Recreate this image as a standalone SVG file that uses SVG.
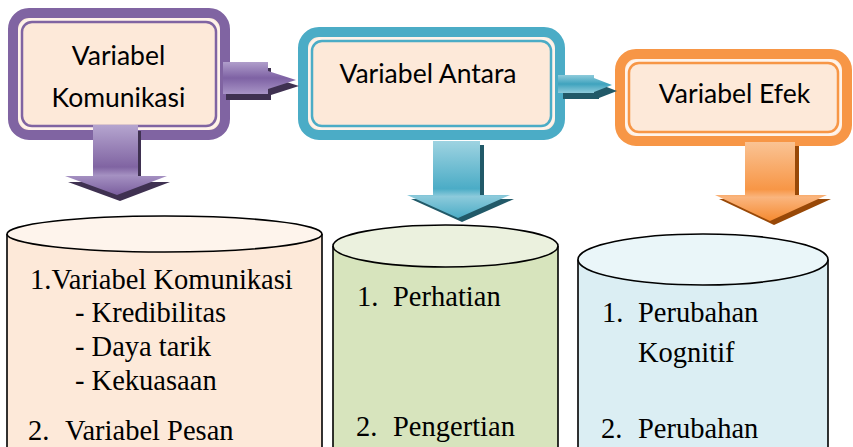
<svg xmlns="http://www.w3.org/2000/svg" width="853" height="447" viewBox="0 0 853 447">
<defs>
<linearGradient id="gPurV" x1="0" y1="0" x2="0" y2="1">
<stop offset="0" stop-color="#B5A5CF"/><stop offset="0.6" stop-color="#8064A2"/><stop offset="0.72" stop-color="#A591C2"/><stop offset="1" stop-color="#7A5E9E"/>
</linearGradient>
<linearGradient id="gTealV" x1="0" y1="0" x2="0" y2="1">
<stop offset="0" stop-color="#9ED3E1"/><stop offset="0.62" stop-color="#4BACC6"/><stop offset="0.72" stop-color="#8CCADB"/><stop offset="1" stop-color="#4BACC6"/>
</linearGradient>
<linearGradient id="gOrgV" x1="0" y1="0" x2="0" y2="1">
<stop offset="0" stop-color="#FAC394"/><stop offset="0.6" stop-color="#F79646"/><stop offset="0.7" stop-color="#FAB57E"/><stop offset="1" stop-color="#F58A30"/>
</linearGradient>
<linearGradient id="gPurH" x1="0" y1="0" x2="0" y2="1">
<stop offset="0" stop-color="#B09ECB"/><stop offset="0.5" stop-color="#7E62A4"/><stop offset="1" stop-color="#A894C6"/>
</linearGradient>
<linearGradient id="gTealH" x1="0" y1="0" x2="0" y2="1">
<stop offset="0" stop-color="#8ECBDB"/><stop offset="0.5" stop-color="#3FA3BE"/><stop offset="1" stop-color="#8ECBDB"/>
</linearGradient>
</defs>
<style>
.fill{fill:#FDE9D9}
.band{fill:none;stroke-width:10}
.thin{fill:none;stroke-width:2.5}
.gap{fill:none;stroke:#FFF3EA;stroke-width:3}
.bt{font-family:Lato,"Open Sans",sans-serif;font-size:26.5px;fill:#000}
.ct{font-family:"Liberation Serif",serif;font-size:28.5px;fill:#000}
.cyl{stroke:#000;stroke-width:1.6}
</style>
<g id="node-komunikasi">
<rect class="fill" x="13" y="13" width="212" height="122" rx="16"/>
<rect class="gap" x="19.5" y="19.5" width="199" height="109" rx="12"/>
<rect class="thin" x="22" y="22" width="194" height="104" rx="10" stroke="#8064A2"/>
<rect class="band" x="13" y="13" width="212" height="122" rx="16" stroke="#8064A2"/>
<text class="bt" x="118.5" y="65" text-anchor="middle">Variabel</text>
<text class="bt" x="118.5" y="107" text-anchor="middle">Komunikasi</text>
</g>
<g id="node-antara">
<rect class="fill" x="303" y="32" width="257" height="103" rx="16"/>
<rect class="gap" x="309.5" y="38.5" width="244" height="90" rx="12"/>
<rect class="thin" x="312" y="41" width="239" height="85" rx="10" stroke="#4BACC6"/>
<rect class="band" x="303" y="32" width="257" height="103" rx="16" stroke="#4BACC6"/>
<text class="bt" x="428" y="83" text-anchor="middle">Variabel Antara</text>
</g>
<g id="node-efek">
<rect class="fill" x="620" y="54" width="227" height="87" rx="16"/>
<rect class="gap" x="626.5" y="60.5" width="214" height="74" rx="12"/>
<rect class="thin" x="629" y="63" width="209" height="69" rx="10" stroke="#F79646"/>
<rect class="band" x="620" y="54" width="227" height="87" rx="16" stroke="#F79646"/>
<text class="bt" x="734.5" y="103" text-anchor="middle">Variabel Efek</text>
</g>
<g id="connectors">
<g id="arrow-kom-antara">
<path d="M223,62 H268 V71 L296,80 L268,89 V94 H223 Z" fill="#3F3151" transform="translate(3,6)"/>
<path d="M223,62 H268 V71 L296,80 L268,89 V94 H223 Z" fill="url(#gPurH)"/>
</g>
<g id="arrow-antara-efek">
<path d="M558,75 H594 V78 L612,85 L594,92 V93 H558 Z" fill="#215968" transform="translate(5,6)"/>
<path d="M558,75 H594 V78 L612,85 L594,92 V93 H558 Z" fill="url(#gTealH)"/>
</g>
<g id="arrow-kom-down">
<path d="M93,125 H138 V176 H167 L117,195 L65,176 H93 Z" fill="#3F3151" transform="translate(3,6)"/>
<path d="M93,125 H138 V176 H167 L117,195 L65,176 H93 Z" fill="url(#gPurV)"/>
</g>
<g id="arrow-antara-down">
<path d="M433,141 H480 V195 H510 L458,218 L407,195 H433 Z" fill="#215968" transform="translate(4,4)"/>
<path d="M433,141 H480 V195 H510 L458,218 L407,195 H433 Z" fill="url(#gTealV)"/>
</g>
<g id="arrow-efek-down">
<path d="M745,142 H795 V195 H827 L770,221 L715,195 H745 Z" fill="#984807" transform="translate(4,4)"/>
<path d="M745,142 H795 V195 H827 L770,221 L715,195 H745 Z" fill="url(#gOrgV)"/>
</g>
</g>
<g id="node-cyl-komunikasi">
<path class="cyl" d="M7,234 V460 H322 V234" fill="#FDE9D9"/>
<ellipse class="cyl" cx="164.5" cy="234" rx="157.5" ry="18" fill="#FEF4EC"/>
<text class="ct" x="30" y="289">1.Variabel Komunikasi</text>
<text class="ct" x="75" y="322">- Kredibilitas</text>
<text class="ct" x="75" y="356">- Daya tarik</text>
<text class="ct" x="75" y="390">- Kekuasaan</text>
<text class="ct" x="28" y="440">2.</text>
<text class="ct" x="65" y="440">Variabel Pesan</text>
</g>
<g id="node-cyl-antara">
<path class="cyl" d="M333,246 V460 H558 V246" fill="#D7E4BD"/>
<ellipse class="cyl" cx="445.5" cy="246" rx="112.5" ry="21" fill="#EBF1DE"/>
<text class="ct" x="357" y="306">1.</text>
<text class="ct" x="393" y="306">Perhatian</text>
<text class="ct" x="356" y="436">2.</text>
<text class="ct" x="393" y="436">Pengertian</text>
</g>
<g id="node-cyl-efek">
<path class="cyl" d="M578,259.5 V460 H828 V259.5" fill="#DBEEF3"/>
<ellipse class="cyl" cx="703" cy="259.5" rx="125" ry="25.5" fill="#EAF6F9"/>
<text class="ct" x="602" y="322">1.</text>
<text class="ct" x="638" y="322">Perubahan</text>
<text class="ct" x="638" y="362">Kognitif</text>
<text class="ct" x="601" y="438">2.</text>
<text class="ct" x="638" y="438">Perubahan</text>
</g>
</svg>
